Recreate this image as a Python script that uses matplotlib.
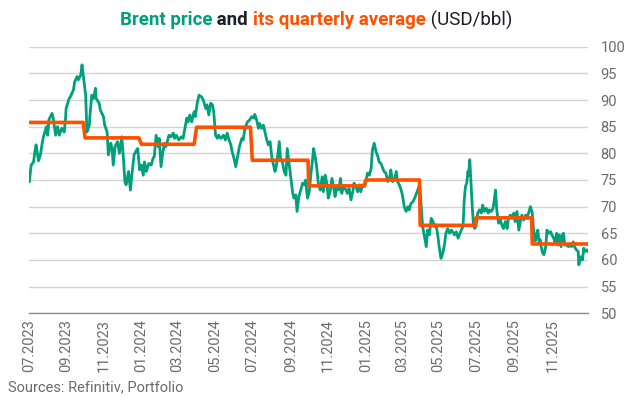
import pandas as pd
import matplotlib.pyplot as plt
import matplotlib.dates as mdates

plt.rcParams['font.family'] = ['Roboto', 'DejaVu Sans']

# Brent daily price, USD/bbl
brent_dates = [
    # 2023
    '2023-07-03', '2023-07-06', '2023-07-10', '2023-07-12', '2023-07-14', '2023-07-18',
    '2023-07-21', '2023-07-24', '2023-07-26', '2023-07-31', '2023-08-02', '2023-08-04',
    '2023-08-09', '2023-08-11', '2023-08-15', '2023-08-18', '2023-08-21', '2023-08-25',
    '2023-08-29', '2023-08-31', '2023-09-01', '2023-09-06', '2023-09-08', '2023-09-13',
    '2023-09-15', '2023-09-19', '2023-09-21', '2023-09-25', '2023-09-27', '2023-09-29',
    '2023-10-03', '2023-10-05', '2023-10-09', '2023-10-10', '2023-10-13', '2023-10-16',
    '2023-10-19', '2023-10-20', '2023-10-25', '2023-10-27', '2023-11-01', '2023-11-03',
    '2023-11-07', '2023-11-09', '2023-11-13', '2023-11-15', '2023-11-17', '2023-11-20',
    '2023-11-24', '2023-11-27', '2023-12-01', '2023-12-04', '2023-12-06', '2023-12-08',
    '2023-12-12', '2023-12-15', '2023-12-18', '2023-12-21', '2023-12-25', '2023-12-27',
    '2023-12-30',
    # 2024
    '2024-01-02', '2024-01-05', '2024-01-07', '2024-01-10', '2024-01-14', '2024-01-18',
    '2024-01-21', '2024-01-23', '2024-01-26', '2024-01-29', '2024-01-31', '2024-02-03',
    '2024-02-06', '2024-02-09', '2024-02-11', '2024-02-16', '2024-02-19', '2024-02-23',
    '2024-02-25', '2024-02-28', '2024-03-03', '2024-03-07', '2024-03-10', '2024-03-13',
    '2024-03-16', '2024-03-18', '2024-03-21', '2024-03-24', '2024-03-28', '2024-03-30',
    '2024-04-02', '2024-04-05', '2024-04-09', '2024-04-12', '2024-04-16', '2024-04-18',
    '2024-04-21', '2024-04-24', '2024-04-27', '2024-04-29', '2024-05-02', '2024-05-05',
    '2024-05-07', '2024-05-11', '2024-05-15', '2024-05-18', '2024-05-21', '2024-05-24',
    '2024-05-27', '2024-05-29', '2024-06-01', '2024-06-04', '2024-06-08', '2024-06-10',
    '2024-06-14', '2024-06-16', '2024-06-19', '2024-06-23', '2024-06-27', '2024-06-30',
    '2024-07-04', '2024-07-05', '2024-07-08', '2024-07-11', '2024-07-13', '2024-07-16',
    '2024-07-19', '2024-07-22', '2024-07-24', '2024-07-27', '2024-07-30', '2024-08-02',
    '2024-08-04', '2024-08-07', '2024-08-09', '2024-08-11', '2024-08-14', '2024-08-16',
    '2024-08-19', '2024-08-22', '2024-08-25', '2024-08-27', '2024-08-30', '2024-09-02',
    '2024-09-05', '2024-09-07', '2024-09-10', '2024-09-12', '2024-09-15', '2024-09-18',
    '2024-09-21', '2024-09-24', '2024-09-26', '2024-09-29', '2024-10-02', '2024-10-05',
    '2024-10-07', '2024-10-09', '2024-10-12', '2024-10-14', '2024-10-17', '2024-10-20',
    '2024-10-23', '2024-10-25', '2024-10-28', '2024-10-31', '2024-11-02', '2024-11-05',
    '2024-11-08', '2024-11-11', '2024-11-13', '2024-11-16', '2024-11-19', '2024-11-22',
    '2024-11-24', '2024-11-27', '2024-12-01', '2024-12-03', '2024-12-06', '2024-12-09',
    '2024-12-12', '2024-12-14', '2024-12-17', '2024-12-20', '2024-12-23', '2024-12-25',
    '2024-12-28', '2024-12-31',
    # 2025
    '2025-01-02', '2025-01-05', '2025-01-08', '2025-01-11', '2025-01-13', '2025-01-16',
    '2025-01-19', '2025-01-22', '2025-01-24', '2025-01-27', '2025-01-30', '2025-02-01',
    '2025-02-04', '2025-02-07', '2025-02-10', '2025-02-12', '2025-02-15', '2025-02-18',
    '2025-02-21', '2025-02-23', '2025-02-26', '2025-03-01', '2025-03-03', '2025-03-06',
    '2025-03-09', '2025-03-12', '2025-03-14', '2025-03-17', '2025-03-20', '2025-03-23',
    '2025-03-25', '2025-03-28', '2025-03-31', '2025-04-02', '2025-04-05', '2025-04-08',
    '2025-04-11', '2025-04-13', '2025-04-16', '2025-04-19', '2025-04-22', '2025-04-24',
    '2025-04-27', '2025-04-30', '2025-05-02', '2025-05-05', '2025-05-08', '2025-05-11',
    '2025-05-13', '2025-05-16', '2025-05-19', '2025-05-22', '2025-05-24', '2025-05-27',
    '2025-05-30', '2025-06-02', '2025-06-04', '2025-06-07', '2025-06-10', '2025-06-12',
    '2025-06-14', '2025-06-16', '2025-06-18', '2025-06-19', '2025-06-21', '2025-06-23',
    '2025-06-25', '2025-06-27', '2025-06-29', '2025-07-01', '2025-07-04', '2025-07-07',
    '2025-07-10', '2025-07-12', '2025-07-15', '2025-07-18', '2025-07-21', '2025-07-23',
    '2025-07-26', '2025-07-29', '2025-07-31', '2025-08-02', '2025-08-04', '2025-08-07',
    '2025-08-10', '2025-08-13', '2025-08-15', '2025-08-18', '2025-08-21', '2025-08-23',
    '2025-08-26', '2025-08-29', '2025-09-01', '2025-09-03', '2025-09-06', '2025-09-09',
    '2025-09-12', '2025-09-14', '2025-09-17', '2025-09-20', '2025-09-22', '2025-09-25',
    '2025-09-28', '2025-10-01', '2025-10-03', '2025-10-06', '2025-10-08', '2025-10-10',
    '2025-10-12', '2025-10-14', '2025-10-16', '2025-10-18', '2025-10-20', '2025-10-23',
    '2025-10-25', '2025-10-28', '2025-10-31', '2025-11-02', '2025-11-05', '2025-11-07',
    '2025-11-10', '2025-11-12', '2025-11-14', '2025-11-17', '2025-11-19', '2025-11-21',
    '2025-11-23', '2025-11-26', '2025-11-29', '2025-12-01', '2025-12-04', '2025-12-07',
    '2025-12-09', '2025-12-12', '2025-12-15', '2025-12-16', '2025-12-19', '2025-12-22',
    '2025-12-24', '2025-12-26', '2025-12-29', '2025-12-31',
]
brent_values = [
    # 2023
    74.7, 77.8, 78.4, 80.3, 81.6, 78.6,
    79.7, 81.9, 83.1, 85.0, 83.4, 86.3,
    87.5, 86.6, 83.4, 85.0, 83.4, 84.7,
    84.0, 86.3, 88.4, 90.3, 90.6, 91.9,
    93.4, 94.4, 93.8, 94.7, 96.6, 94.7,
    90.9, 84.0, 85.3, 87.2, 90.9, 90.3,
    92.2, 90.3, 89.4, 88.1, 86.9, 85.3,
    84.0, 79.7, 81.9, 80.9, 77.8, 81.3,
    82.2, 80.0, 83.1, 78.4, 74.7, 74.1,
    76.6, 73.1, 76.6, 79.7, 80.6, 80.9,
    76.9,
    # 2024
    77.8, 75.9, 78.4, 76.6, 78.1, 77.8,
    79.1, 79.4, 83.4, 81.3, 82.8, 77.5,
    80.3, 81.9, 81.3, 83.4, 83.1, 83.8,
    82.8, 83.4, 82.5, 83.1, 82.8, 84.7,
    86.6, 85.9, 87.2, 85.9, 87.8, 86.9,
    89.4, 90.9, 90.6, 90.0, 88.4, 89.1,
    87.2, 89.4, 89.1, 87.8, 83.4, 82.8,
    83.4, 82.8, 83.4, 82.5, 83.8, 82.5,
    81.6, 80.3, 79.1, 77.5, 80.0, 81.3,
    82.8, 82.5, 84.7, 85.9, 86.3, 86.9,
    86.6, 87.3, 86.3, 84.7, 85.6, 84.7,
    85.3, 83.8, 82.8, 81.6, 82.2, 79.1,
    78.1, 76.6, 77.5, 79.1, 82.2, 79.1,
    78.4, 76.6, 75.9, 80.9, 78.1, 75.3,
    72.5, 71.6, 72.2, 69.1, 71.9, 73.1,
    74.4, 74.1, 75.0, 71.6, 72.8, 76.6,
    78.4, 80.9, 79.1, 77.5, 74.1, 73.1,
    75.6, 72.8, 75.9, 74.1, 71.6, 72.8,
    75.3, 73.4, 71.9, 73.8, 73.1, 75.3,
    72.5, 73.8, 73.1, 72.5, 73.4, 71.3,
    72.8, 74.4, 73.8, 72.8, 74.1, 72.8,
    74.1, 73.8,
    # 2025
    74.4, 76.3, 75.9, 77.2, 80.6, 81.9,
    80.3, 79.4, 78.4, 78.1, 77.2, 76.6,
    76.3, 74.7, 75.3, 76.9, 74.7, 75.0,
    76.6, 74.7, 74.1, 73.1, 72.2, 70.0,
    69.1, 70.0, 69.4, 70.6, 70.9, 71.6,
    72.2, 73.1, 74.1, 71.3, 66.3, 64.4,
    62.5, 65.6, 64.7, 67.8, 67.2, 66.3,
    66.6, 64.4, 62.5, 60.3, 61.3, 63.1,
    65.0, 65.9, 65.0, 65.6, 65.3, 64.7,
    65.3, 64.1, 64.7, 65.6, 66.3, 71.3,
    73.8, 74.4, 76.6, 75.9, 78.8, 74.4,
    70.0, 66.6, 65.9, 66.3, 68.8, 69.4,
    68.8, 70.3, 69.1, 69.7, 68.8, 69.4,
    69.1, 69.7, 71.3, 73.1, 69.4, 66.9,
    67.5, 66.3, 65.9, 67.2, 65.9, 67.8,
    68.4, 68.1, 68.8, 67.2, 69.1, 65.6,
    67.5, 68.4, 67.5, 68.4, 67.8, 68.8,
    70.0, 68.8, 65.9, 63.6, 64.5, 65.6,
    63.4, 63.8, 62.2, 61.3, 61.0, 62.5,
    65.6, 65.0, 65.3, 64.7, 64.1, 63.4,
    65.0, 62.8, 64.7, 62.5, 64.7, 65.0,
    62.8, 62.8, 62.5, 62.8, 62.5, 63.4,
    62.5, 61.9, 61.6, 59.1, 60.6, 60.0,
    62.2, 61.6, 61.9, 61.6,
]

# Quarterly averages: first and last trading day of each quarter
q_start = ['2023-07-03', '2023-10-02', '2024-01-02', '2024-04-01', '2024-07-01',
           '2024-10-01', '2025-01-02', '2025-04-01', '2025-07-01', '2025-10-01']
q_end = ['2023-09-29', '2023-12-29', '2024-03-28', '2024-06-28', '2024-09-30',
         '2024-12-31', '2025-03-31', '2025-06-30', '2025-09-30', '2025-12-31']
q_avg = [85.8, 82.9, 81.7, 84.9, 78.7, 73.9, 75.0, 66.5, 67.9, 63.0]

tick_dates = ['2023-07-03', '2023-09-01', '2023-11-01', '2024-01-02', '2024-03-01',
              '2024-05-01', '2024-07-01', '2024-09-02', '2024-11-01', '2025-01-02',
              '2025-03-03', '2025-05-01', '2025-07-01', '2025-09-01', '2025-11-03']

green = '#00a07c'
orange = '#ff5000'
dark = '#1e1e2a'
grey_txt = '#6b6b6b'

brent = pd.Series(brent_values, index=pd.to_datetime(brent_dates))

# step line for the quarterly average
avg_x, avg_y = [], []
for s, e, v in zip(q_start, q_end, q_avg):
    avg_x += [pd.Timestamp(s), pd.Timestamp(e)]
    avg_y += [v, v]

fig = plt.figure(figsize=(6.32, 4.03), dpi=100)
ax = fig.add_axes([0.0464, 0.2226, 0.884, 0.6615])

ax.plot(brent.index, brent.values, color=green, lw=2.0, solid_joinstyle='round', zorder=3)
ax.plot(avg_x, avg_y, color=orange, lw=2.6, zorder=4)

ax.set_ylim(50, 100)
ax.set_yticks(range(50, 101, 5))
ax.set_xlim(pd.Timestamp(brent_dates[0]), pd.Timestamp(brent_dates[-1]))
ax.yaxis.tick_right()
ax.grid(axis='y', color='#d3d3d3', lw=1.0)
ax.set_axisbelow(True)
for side in ['top', 'left', 'right']:
    ax.spines[side].set_visible(False)
ax.spines['bottom'].set_color('#8c8c8c')
ax.spines['bottom'].set_linewidth(1.0)

ax.set_xticks(pd.to_datetime(tick_dates))
ax.xaxis.set_major_formatter(mdates.DateFormatter('%m.%Y'))
ax.tick_params(axis='x', length=0, pad=4, labelsize=10.5, labelcolor=grey_txt, rotation=90)
ax.tick_params(axis='y', length=0, pad=9, labelsize=10.5, labelcolor=grey_txt)

# multi-coloured title
parts = [('Brent price', green, 'bold'), (' and ', dark, 'bold'),
         ('its quarterly average', orange, 'bold'), (' (USD/bbl)', dark, 'normal')]
renderer = fig.canvas.get_renderer()
texts = [fig.text(0, 0.950, s, color=c, fontweight=w, fontsize=13.5, va='center', ha='left')
         for s, c, w in parts]
widths = [t.get_window_extent(renderer).width for t in texts]
x = 0.5 - sum(widths) / 2 / fig.bbox.width
for t, w in zip(texts, widths):
    t.set_x(x)
    x += w / fig.bbox.width

fig.text(0.013, 0.038, 'Sources: Refinitiv, Portfolio', fontsize=10.5, color=grey_txt,
         ha='left', va='center')

fig.savefig('out.png', dpi=100)
